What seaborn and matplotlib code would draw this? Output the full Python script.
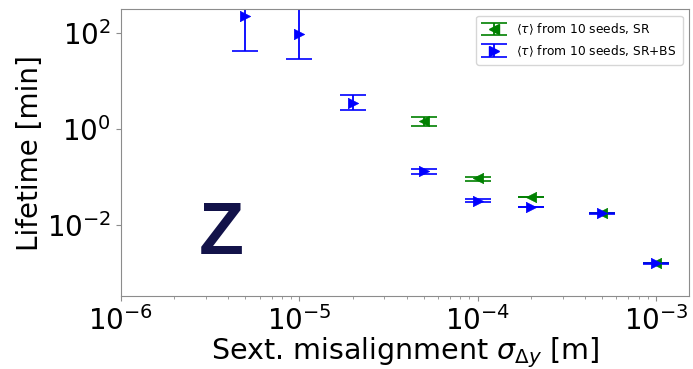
import numpy as np
import matplotlib
matplotlib.use("Agg")
import matplotlib.pyplot as plt
import seaborn as sns
from matplotlib.ticker import LogLocator, NullLocator

# ------------------------------
# Data
# ------------------------------
sigma_bs = [5e-6, 1e-5, 2e-5, 5e-5, 1e-4, 2e-4, 5e-4, 1e-3]
tau_bs = [226, 95, 3.43, 0.133, 0.032, 0.0237, 0.0175, 0.00159]
tau_bs_lo = [42, 28.7, 2.52, 0.117, 0.030, 0.0234, 0.0173, 0.00157]
tau_bs_hi = [410, 600, 5.1, 0.147, 0.034, 0.0240, 0.0177, 0.00161]

sigma_sr = [5e-5, 1e-4, 2e-4, 5e-4, 1e-3]
tau_sr = [1.47, 0.094, 0.0378, 0.0177, 0.00162]
tau_sr_lo = [1.155, 0.084, 0.0373, 0.0175, 0.00160]
tau_sr_hi = [1.80, 0.101, 0.0383, 0.0179, 0.00164]

labels = [r"$\langle\tau\rangle$ from 10 seeds, SR",
          r"$\langle\tau\rangle$ from 10 seeds, SR+BS"]

# ------------------------------
# Style
# ------------------------------
sns.set_style("white", {"axes.edgecolor": "0.55", "text.color": "black",
                        "axes.labelcolor": "black", "xtick.color": "black",
                        "ytick.color": "black"})

fig = plt.figure(figsize=(6.93, 3.69), dpi=100)
ax = fig.add_axes([0.1742, 0.1978, 0.8200, 0.7765])

series = [
    (sigma_sr, tau_sr, tau_sr_lo, tau_sr_hi, "green", "<", labels[0]),
    (sigma_bs, tau_bs, tau_bs_lo, tau_bs_hi, "blue", ">", labels[1]),
]

handles = []
for xs, ys, lo, hi, col, mk, lab in series:
    ys_a = np.array(ys)
    yerr = [ys_a - np.array(lo), np.array(hi) - ys_a]
    eb = ax.errorbar(xs, ys, yerr=yerr, fmt="none", ecolor=col,
                     elinewidth=1.3, capsize=9.7, capthick=1.2)
    sns.scatterplot(x=xs, y=ys, marker=mk, color=col, s=55,
                    edgecolor=col, linewidth=0.5, ax=ax, legend=False, zorder=3)
    mline = plt.Line2D([], [], ls="none", marker=mk, color=col, ms=7)
    handles.append((eb, mline))

ax.set_xscale("log")
ax.set_yscale("log")
ax.set_xlim(1e-6, 1.53e-3)
ax.set_ylim(3.3e-4, 309)

ax.set_yticks([1e-2, 1, 1e2])
ax.yaxis.set_minor_locator(NullLocator())
ax.xaxis.set_major_locator(LogLocator(base=10, numticks=10))
ax.xaxis.set_minor_locator(LogLocator(base=10, subs=np.arange(2, 10), numticks=20))

ax.tick_params(axis="both", which="major", labelsize=20, length=3.5,
               width=0.8, color="0.55", labelcolor="black", bottom=True, left=True)
ax.tick_params(axis="x", which="minor", length=2, width=0.6, color="0.55",
               bottom=True)

ax.set_xlabel(r"Sext. misalignment $\sigma_{\Delta y}$ [m]", fontsize=20.5,
              labelpad=0, color="black")
ax.set_ylabel("Lifetime [min]", fontsize=20, labelpad=2, color="black")

ax.text(0.1777, 0.1466, "Z", transform=ax.transAxes, ha="center",
        va="baseline", fontsize=53, fontweight="bold",
        family="Liberation Sans", color="#121249")

ax.legend(handles, labels, loc="upper right", fontsize=8.8, frameon=True,
          borderpad=0.5, handlelength=2.0, labelcolor="black")

fig.savefig("out.png", dpi=100)
